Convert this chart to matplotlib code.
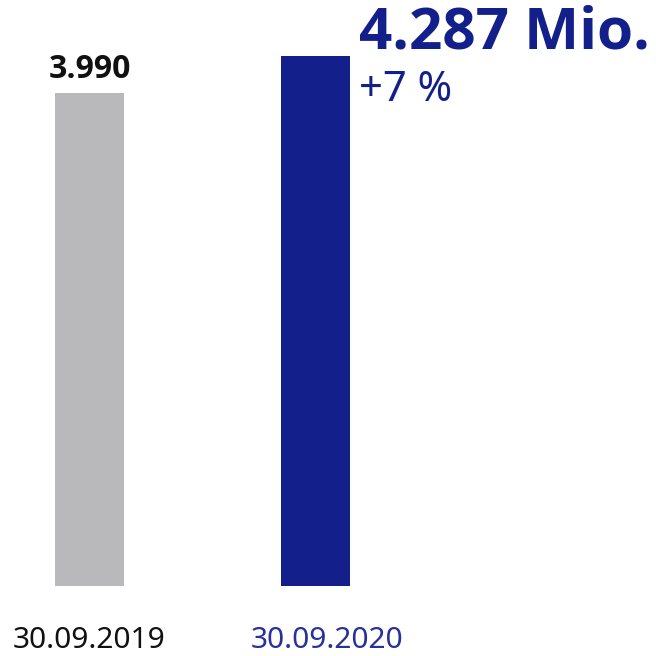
import matplotlib
matplotlib.use("Agg")
from matplotlib import pyplot as plt

plt.rcParams['font.family'] = ['Noto Sans', 'DejaVu Sans']
bold_font = ['Open Sans', 'DejaVu Sans']

dates = ["30.09.2019", "30.09.2020"]
values = [3990, 4287]
value_labels = ["3.990", "4.287 Mio."]
change_label = "+7 %"

gray = "#b9b9bb"
blue = "#131f8a"
colors = [gray, blue]
label_colors = ["#111111", "#28309a"]

fig = plt.figure(figsize=(6.56, 6.56), dpi=100)
ax = fig.add_axes([0, 70 / 656, 1, 586 / 656])
ax.bar(range(len(values)), values, width=0.305, color=colors)
ax.set_xlim(-0.396, 2.507)
ax.set_ylim(0, values[0] * 586 / 493)
ax.axis("off")

# value on top of first bar
ax.annotate(value_labels[0], (0, values[0]), xytext=(0, 10.8), textcoords="offset points",
            ha="center", va="baseline", fontsize=23, fontweight="bold", family=bold_font,
            color="#111111", annotation_clip=False)
# big label right of second bar
ax.annotate(value_labels[1], (1, values[1]), xytext=(31, 5.8), textcoords="offset points",
            ha="left", va="baseline", fontsize=42, fontweight="bold", family=bold_font,
            color=blue, annotation_clip=False)
ax.annotate(change_label, (1, values[1]), xytext=(31.5, -32.4), textcoords="offset points",
            ha="left", va="baseline", fontsize=30, color=blue, annotation_clip=False)

# date labels below bars
for i, d in enumerate(dates):
    ax.annotate(d, (i, 0), xytext=(i * 8, -44.6), textcoords="offset points",
                ha="center", va="baseline", fontsize=21.5, color=label_colors[i],
                annotation_clip=False)

fig.savefig("out.png", dpi=100)
